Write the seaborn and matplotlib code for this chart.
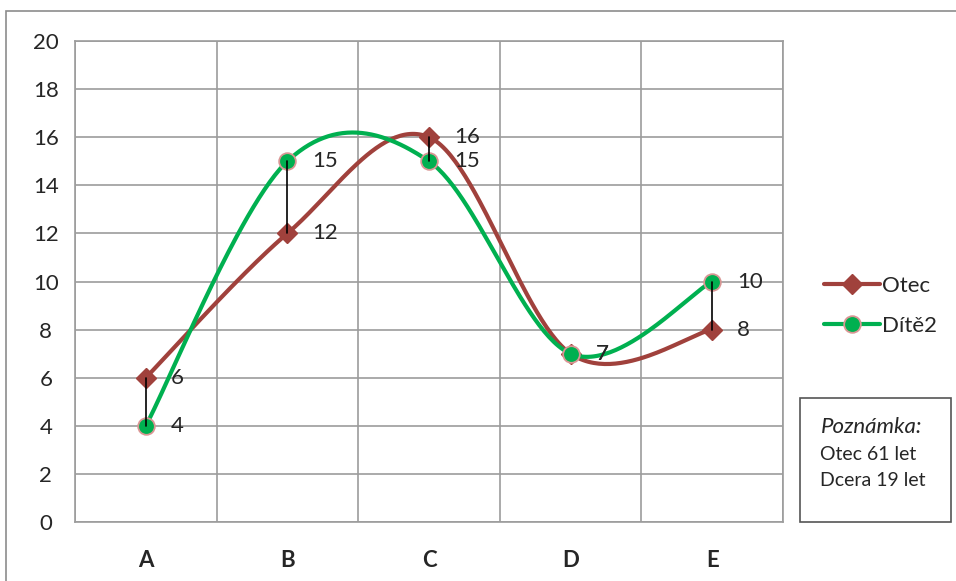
import matplotlib
matplotlib.use("Agg")
import matplotlib.pyplot as plt
import seaborn as sns
import numpy as np
from matplotlib.lines import Line2D
from matplotlib.patches import Rectangle

categories = ["A", "B", "C", "D", "E"]
otec = [6, 12, 16, 7, 8]
dite = [4, 15, 15, 7, 10]
y_ticks = [0, 2, 4, 6, 8, 10, 12, 14, 16, 18, 20]
note_title = "Poznámka:"
note_lines = ["Otec 61 let", "Dcera 19 let"]

red = "#A0413C"
green = "#00B050"
grid_c = "#9C9C9C"


def smooth(xs, ys, n=60):
    # Excel-like smoothed line (Bezier through points)
    p = np.column_stack([xs, ys]).astype(float)
    out = []
    for i in range(len(p) - 1):
        p0 = p[i - 1] if i > 0 else p[i]
        p3 = p[i + 2] if i + 2 < len(p) else p[i + 1]
        c1 = p[i] + (p[i + 1] - p0) / 6
        c2 = p[i + 1] - (p3 - p[i]) / 6
        t = np.linspace(0, 1, n)[:, None]
        seg = ((1 - t) ** 3 * p[i] + 3 * (1 - t) ** 2 * t * c1
               + 3 * (1 - t) * t ** 2 * c2 + t ** 3 * p[i + 1])
        out.append(seg if i == 0 else seg[1:])
    s = np.vstack(out)
    return s[:, 0], s[:, 1]


sns.set_style("white")
plt.rcParams["font.family"] = ["Lato", "DejaVu Sans"]

fig = plt.figure(figsize=(9.56, 5.81), dpi=100)
ax = fig.add_axes([75 / 956, 59 / 581, 708 / 956, 481 / 581])

x = np.arange(len(categories))

# outer chart border
fig.patches.append(Rectangle((6 / 956, -0.1), 1.2, (570 + 0.1 * 581) / 581,
                             transform=fig.transFigure, fill=False,
                             edgecolor="#8C8C8C", linewidth=1.2, zorder=0))

# grid
for v in y_ticks:
    ax.axhline(v, color=grid_c, lw=1.2, zorder=0)
for v in np.arange(-0.5, len(categories), 1.0):
    ax.axvline(v, color=grid_c, lw=1.2, zorder=0)

sx, sy = smooth(x, otec)
sns.lineplot(x=sx, y=sy, sort=False, color=red, lw=3, ax=ax, zorder=2)
ax.plot(x, otec, ls="none", marker="D", markersize=10, color=red, zorder=3)

gx, gy = smooth(x, dite)
sns.lineplot(x=gx, y=gy, sort=False, color=green, lw=3, ax=ax, zorder=4)
ax.plot(x, dite, ls="none", marker="o", markersize=12, markerfacecolor=green,
        markeredgecolor="#D99694", markeredgewidth=1.3, zorder=5)

# high-low lines
for xi, a, b in zip(x, otec, dite):
    ax.plot([xi, xi], [a, b], color="black", lw=1.2, zorder=6)

# data labels
for xi, a, b in zip(x, otec, dite):
    for v in (a, b):
        ax.annotate(str(v), (xi, v), xytext=(18, 0), textcoords="offset points",
                    ha="left", va="center", fontsize=16, zorder=7)

ax.set_xlim(-0.5, len(categories) - 0.5)
ax.set_ylim(0, 20)
ax.set_yticks(y_ticks)
ax.set_xticks(x)
ax.set_xticklabels(categories, fontweight="bold")
ax.tick_params(axis="both", length=0, labelsize=16)
ax.tick_params(axis="x", pad=20)
ax.tick_params(axis="y", pad=21)
for lab in ax.get_yticklabels():
    lab.set_horizontalalignment("center")
for s in ax.spines.values():
    s.set_color(grid_c)
    s.set_linewidth(1.2)

handles = [
    Line2D([], [], color=red, lw=3, marker="D", markersize=10),
    Line2D([], [], color=green, lw=3, marker="o", markersize=12,
           markerfacecolor=green, markeredgecolor="#D99694", markeredgewidth=1.3),
]
fig.legend(handles, ["Otec", "Dítě2"], loc="center left",
           bbox_to_anchor=(813 / 956, 1 - 306 / 581), frameon=False,
           fontsize=16, handlelength=2.5, handletextpad=0.1, labelspacing=0.9,
           borderpad=0)

# note box
fig.patches.append(Rectangle((800 / 956, 59 / 581), 151 / 956, 124 / 581,
                             transform=fig.transFigure, fill=False,
                             edgecolor="#555555", linewidth=1.2))
fig.text(821 / 956, 1 - 427 / 581, note_title, fontsize=16, style="italic",
         va="center", ha="left")
for i, t in enumerate(note_lines):
    fig.text(820 / 956, 1 - (455 + 25 * i) / 581, t, fontsize=14,
             va="center", ha="left")

fig.savefig("out.png", dpi=100)
